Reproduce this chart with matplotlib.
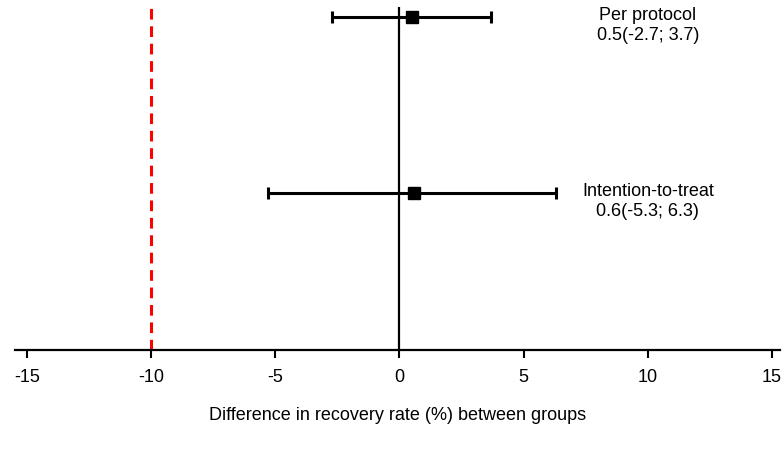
import matplotlib.pyplot as plt

plt.rcParams['font.family'] = ['Liberation Sans', 'DejaVu Sans']

# data
groups = ['Per protocol', 'Intention-to-treat']
estimates = [0.5, 0.6]
lower = [-2.7, -5.3]
upper = [3.7, 6.3]
rows = [2, 1]
margin = -10
xticks = [-15, -10, -5, 0, 5, 10, 15]

fig = plt.figure(figsize=(7.84, 4.52), dpi=100)
ax = fig.add_axes([15 / 784, 1 - 351 / 452, 765 / 784, 343 / 452])

err_lo = [e - l for e, l in zip(estimates, lower)]
err_hi = [u - e for e, u in zip(estimates, upper)]
ax.errorbar(estimates, rows, xerr=[err_lo, err_hi], fmt='s', color='black',
            ecolor='black', elinewidth=2.2, capsize=4.5, capthick=2.2,
            markersize=9, zorder=3)

ax.axvline(0, color='black', lw=1.6, zorder=2)
ax.axvline(margin, color='red', lw=2.2, ls=(0, (3.5, 2.2)), zorder=2)

for g, e, l, u, r in zip(groups, estimates, lower, upper, rows):
    ax.text(10, r + 0.06, '%s\n%.1f(%.1f; %.1f)' % (g, e, l, u),
            ha='center', va='top', fontsize=13, linespacing=1.2)

ax.set_xlim(-15.48, 15.32)
ax.set_ylim(0.108, 2.057)
ax.set_xticks(xticks)
ax.set_xticklabels([str(t) for t in xticks], fontsize=13)
ax.tick_params(axis='x', length=6, width=1.5, pad=7)
ax.set_yticks([])
for s in ['left', 'right', 'top']:
    ax.spines[s].set_visible(False)
ax.spines['bottom'].set_linewidth(1.6)
ax.set_xlabel('Difference in recovery rate (%) between groups', fontsize=13,
              labelpad=15)

fig.savefig('out.png', dpi=100)
